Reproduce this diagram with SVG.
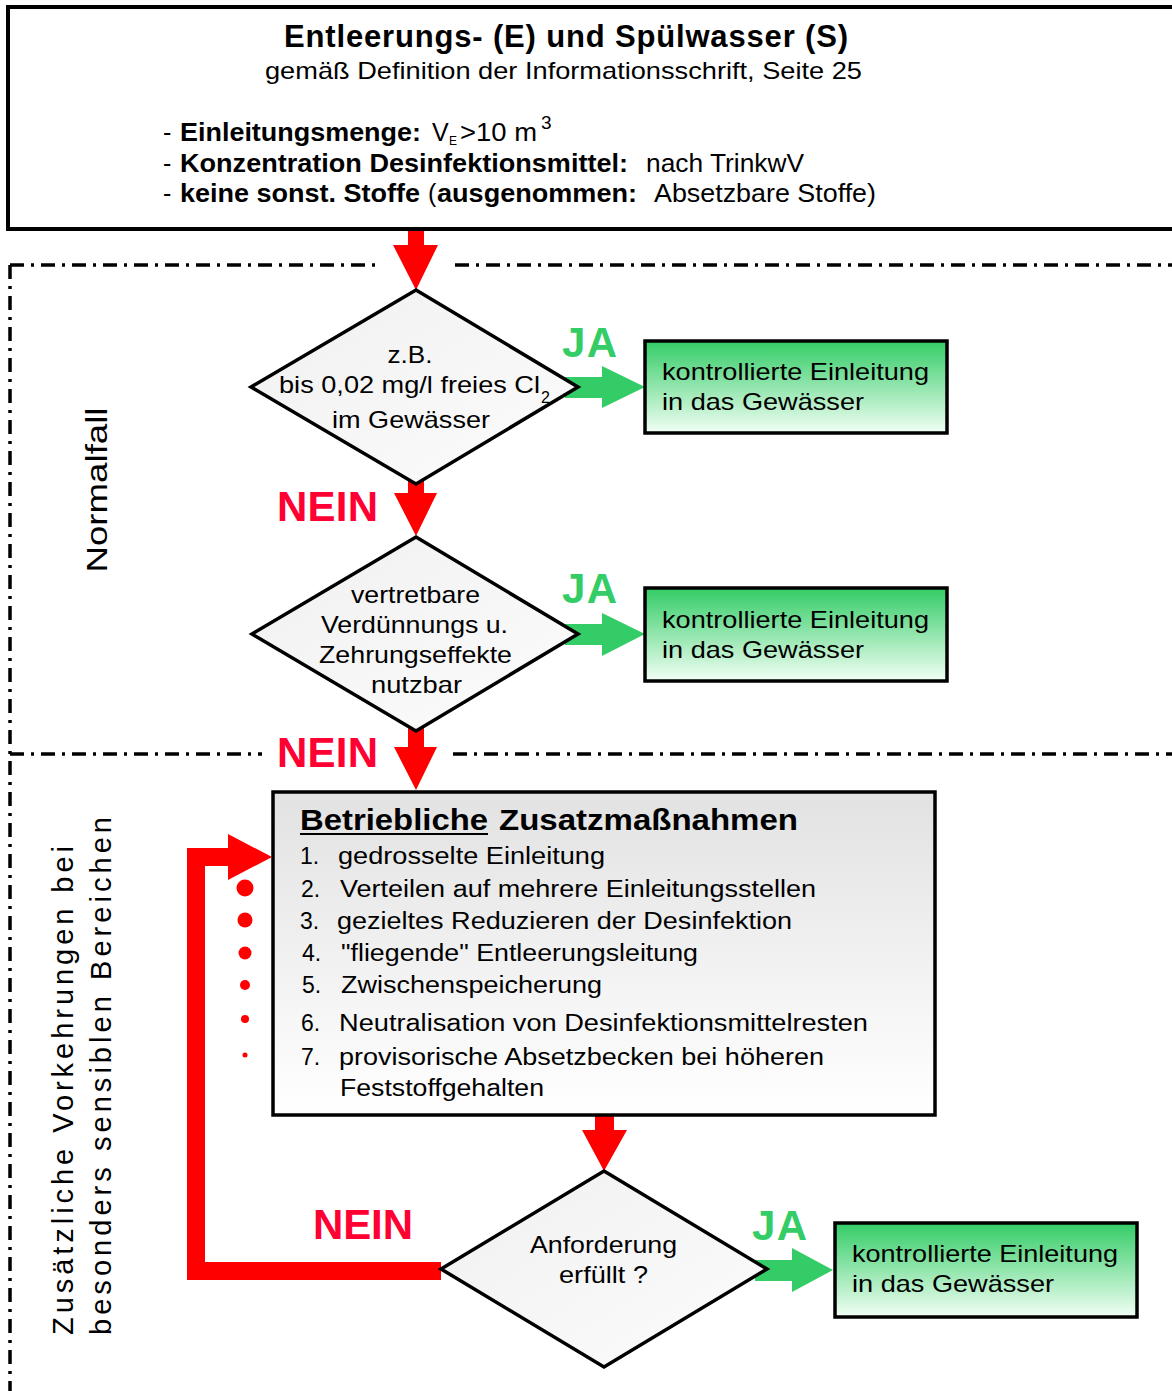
<svg xmlns="http://www.w3.org/2000/svg" width="1172" height="1391" viewBox="0 0 1172 1391">
<defs>
<linearGradient id="gDiamond" x1="0" y1="0" x2="1" y2="1">
<stop offset="0" stop-color="#f0f0f0"/><stop offset="1" stop-color="#fcfcfc"/>
</linearGradient>
<linearGradient id="gGray" x1="0" y1="0" x2="0" y2="1">
<stop offset="0" stop-color="#e2e2e2"/><stop offset="1" stop-color="#ffffff"/>
</linearGradient>
<linearGradient id="gGreen" x1="0" y1="0" x2="0" y2="1">
<stop offset="0" stop-color="#33cc66"/><stop offset="1" stop-color="#f2fff5"/>
</linearGradient>
<style>
text{font-family:"Liberation Sans",Arial,sans-serif;fill:#000}
.b{font-weight:bold}
.f24{font-size:24px}
.f23{font-size:23px}
.f25{font-size:25px}
.mid{text-anchor:middle}
.nein{font-weight:bold;font-size:42px;fill:#ff0033}
.ja{font-weight:bold;font-size:42px;fill:#33cc66}
.dd{fill:none;stroke:#000;stroke-width:3.5;stroke-dasharray:14 7 3 7}
.shape{stroke:#000;stroke-width:3.5}
.red{fill:#ff0000}
.green{fill:#33cc66}
</style>
</defs>
<rect width="1172" height="1391" fill="#fff"/>

<g id="regions">
<path class="dd" d="M10,265 H375"/>
<path class="dd" d="M455,265 H1172"/>
<path class="dd" d="M10,265 V1391"/>
<path class="dd" d="M10,754 H262"/>
<path class="dd" d="M453,754 H1172"/>
<text style="font-size:29px" transform="translate(107,490) rotate(-90)" text-anchor="middle" textLength="165" lengthAdjust="spacingAndGlyphs">Normalfall</text>
<text style="font-size:29px" transform="translate(73,1335) rotate(-90)" textLength="489">Zusätzliche Vorkehrungen bei</text>
<text style="font-size:29px" transform="translate(111,1335) rotate(-90)" textLength="518">besonders sensiblen Bereichen</text>
</g>

<g id="connectors">
<polygon class="red" points="408,229 424,229 424,245 438,245 416,290 393,245 408,245"/>
<polygon class="red" points="408,480 424,480 424,493 437,493 416,536 394,493 408,493"/>
<polygon class="red" points="408,728 424,728 424,747 437,747 416,790 394,747 408,747"/>
<polygon class="red" points="595,1115 614,1115 614,1130 627,1130 604,1171 582,1130 595,1130"/>
<polyline points="441,1271 196,1271 196,857 230,857" fill="none" stroke="#ff0000" stroke-width="18" stroke-linejoin="miter"/>
<polygon class="red" points="228,834 272,857 228,880"/>
<circle class="red" cx="245" cy="888" r="8.5"/>
<circle class="red" cx="245" cy="920" r="7.5"/>
<circle class="red" cx="245" cy="953" r="6.5"/>
<circle class="red" cx="245" cy="985" r="5"/>
<circle class="red" cx="245" cy="1019" r="4"/>
<circle class="red" cx="245" cy="1055" r="2.5"/>
<polygon class="green" points="565,377 602,377 602,366 645,387 602,408 602,398 565,398"/>
<polygon class="green" points="565,624 602,624 602,613 645,634 602,656 602,645 565,645"/>
<polygon class="green" points="755,1260 792,1260 792,1248 833,1270 792,1292 792,1281 755,1281"/>
<text class="nein" x="277" y="521" textLength="101">NEIN</text>
<text class="nein" x="277" y="767" textLength="101">NEIN</text>
<text class="nein" x="313" y="1239" textLength="100">NEIN</text>
<text class="ja" x="562" y="357" textLength="55">JA</text>
<text class="ja" x="562" y="603" textLength="55">JA</text>
<text class="ja" x="752" y="1240" textLength="55">JA</text>
</g>

<g id="node-header">
<rect x="8" y="7" width="1180" height="222" fill="#fff" stroke="#000" stroke-width="4"/>
<text class="b mid" x="566" y="47" style="font-size:31px" textLength="564">Entleerungs- (E) und Spülwasser (S)</text>
<text class="f24 mid" x="563.5" y="79" textLength="597" lengthAdjust="spacingAndGlyphs">gemäß Definition der Informationsschrift, Seite 25</text>
<text class="f25" x="163" y="141">-</text>
<text class="f25 b" x="180" y="141" textLength="241" lengthAdjust="spacingAndGlyphs">Einleitungsmenge:</text>
<text class="f25" x="432" y="141">V</text>
<text x="449" y="145" style="font-size:12px">E</text>
<text class="f25" x="460" y="141" textLength="77" lengthAdjust="spacingAndGlyphs">&gt;10 m</text>
<text x="541" y="129" style="font-size:19px">3</text>
<text class="f25" x="163" y="172">-</text>
<text class="f25 b" x="180" y="172" textLength="448" lengthAdjust="spacingAndGlyphs">Konzentration Desinfektionsmittel:</text>
<text class="f25" x="646" y="172" textLength="158" lengthAdjust="spacingAndGlyphs">nach TrinkwV</text>
<text class="f25" x="163" y="202">-</text>
<text class="f25 b" x="180" y="202" textLength="240" lengthAdjust="spacingAndGlyphs">keine sonst. Stoffe</text>
<text class="f25" x="428" y="202">(</text>
<text class="f25 b" x="437" y="202" textLength="200" lengthAdjust="spacingAndGlyphs">ausgenommen:</text>
<text class="f25" x="654" y="202" textLength="222" lengthAdjust="spacingAndGlyphs">Absetzbare Stoffe)</text>
</g>

<g id="node-decision1">
<polygon class="shape" points="416,290 578,387 416,484 251,387" fill="url(#gDiamond)"/>
<text class="f24 mid" x="410" y="363" textLength="45" lengthAdjust="spacingAndGlyphs">z.B.</text>
<text class="f24" x="279" y="393" textLength="261" lengthAdjust="spacingAndGlyphs">bis 0,02 mg/l freies Cl</text>
<text x="541" y="403" style="font-size:16px">2</text>
<text class="f24 mid" x="411" y="428" textLength="158" lengthAdjust="spacingAndGlyphs">im Gewässer</text>
</g>

<g id="node-ok1">
<rect class="shape" x="645" y="341" width="302" height="92" fill="url(#gGreen)"/>
<text class="f24" x="662" y="380" textLength="267" lengthAdjust="spacingAndGlyphs">kontrollierte Einleitung</text>
<text class="f24" x="662" y="410" textLength="202" lengthAdjust="spacingAndGlyphs">in das Gewässer</text>
</g>

<g id="node-decision2">
<polygon class="shape" points="416,537 578,634 416,731 252,634" fill="url(#gDiamond)"/>
<text class="f24 mid" x="415.5" y="603" textLength="129" lengthAdjust="spacingAndGlyphs">vertretbare</text>
<text class="f24 mid" x="414.5" y="633" textLength="187" lengthAdjust="spacingAndGlyphs">Verdünnungs u.</text>
<text class="f24 mid" x="415.5" y="663" textLength="193" lengthAdjust="spacingAndGlyphs">Zehrungseffekte</text>
<text class="f24 mid" x="416.5" y="693" textLength="91" lengthAdjust="spacingAndGlyphs">nutzbar</text>
</g>

<g id="node-ok2">
<rect class="shape" x="645" y="588" width="302" height="93" fill="url(#gGreen)"/>
<text class="f24" x="662" y="628" textLength="267" lengthAdjust="spacingAndGlyphs">kontrollierte Einleitung</text>
<text class="f24" x="662" y="658" textLength="202" lengthAdjust="spacingAndGlyphs">in das Gewässer</text>
</g>

<g id="node-measures">
<rect class="shape" x="273" y="792" width="662" height="323" fill="url(#gGray)"/>
<text class="b" x="300" y="830" style="font-size:30px" textLength="188" lengthAdjust="spacingAndGlyphs">Betriebliche</text>
<line x1="300" y1="834" x2="488" y2="834" stroke="#000" stroke-width="2"/>
<text class="b" x="499" y="830" style="font-size:30px" textLength="299" lengthAdjust="spacingAndGlyphs">Zusatzmaßnahmen</text>
<text class="f23" x="300" y="864">1.</text>
<text class="f23" x="338" y="864" textLength="267" lengthAdjust="spacingAndGlyphs">gedrosselte Einleitung</text>
<text class="f23" x="301" y="897">2.</text>
<text class="f23" x="340" y="897" textLength="476" lengthAdjust="spacingAndGlyphs">Verteilen auf mehrere Einleitungsstellen</text>
<text class="f23" x="300" y="929">3.</text>
<text class="f23" x="337" y="929" textLength="455" lengthAdjust="spacingAndGlyphs">gezieltes Reduzieren der Desinfektion</text>
<text class="f23" x="302" y="961">4.</text>
<text class="f23" x="341" y="961" textLength="357" lengthAdjust="spacingAndGlyphs">"fliegende" Entleerungsleitung</text>
<text class="f23" x="302" y="993">5.</text>
<text class="f23" x="341" y="993" textLength="261" lengthAdjust="spacingAndGlyphs">Zwischenspeicherung</text>
<text class="f23" x="301" y="1031">6.</text>
<text class="f23" x="339" y="1031" textLength="529" lengthAdjust="spacingAndGlyphs">Neutralisation von Desinfektionsmittelresten</text>
<text class="f23" x="301" y="1065">7.</text>
<text class="f23" x="339" y="1065" textLength="485" lengthAdjust="spacingAndGlyphs">provisorische Absetzbecken bei höheren</text>
<text class="f23" x="340" y="1096" textLength="204" lengthAdjust="spacingAndGlyphs">Feststoffgehalten</text>
</g>

<g id="node-decision3">
<polygon class="shape" points="604,1171 767,1269 604,1367 441,1269" fill="url(#gDiamond)"/>
<text class="f24 mid" x="603.5" y="1253" textLength="147" lengthAdjust="spacingAndGlyphs">Anforderung</text>
<text class="f24 mid" x="603.5" y="1283" textLength="89" lengthAdjust="spacingAndGlyphs">erfüllt ?</text>
</g>

<g id="node-ok3">
<rect class="shape" x="835" y="1223" width="302" height="94" fill="url(#gGreen)"/>
<text class="f24" x="852" y="1262" textLength="266" lengthAdjust="spacingAndGlyphs">kontrollierte Einleitung</text>
<text class="f24" x="852" y="1292" textLength="202" lengthAdjust="spacingAndGlyphs">in das Gewässer</text>
</g>
</svg>
